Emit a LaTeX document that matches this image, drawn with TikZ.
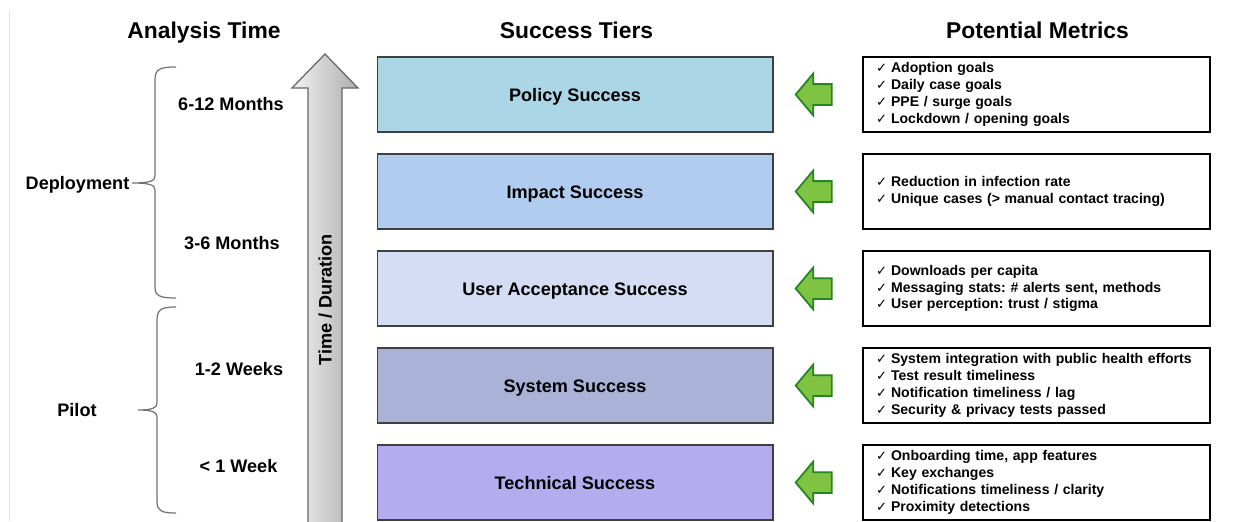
\documentclass[tikz,border=0pt]{standalone}
\usepackage{fontspec}
\setmainfont{Liberation Sans}
\newfontfamily\symfont{DejaVu Sans}
\usetikzlibrary{shapes.arrows}
\frenchspacing

\definecolor{polcol}{RGB}{171,214,229}
\definecolor{impcol}{RGB}{176,205,240}
\definecolor{usrcol}{RGB}{212,221,243}
\definecolor{syscol}{RGB}{170,178,216}
\definecolor{teccol}{RGB}{180,172,238}
\definecolor{arrfill}{RGB}{128,194,66}
\definecolor{arrline}{RGB}{34,134,34}
\newcommand{\ck}{\makebox[0.3cm][l]{\symfont\fontsize{7.5}{7.5}\selectfont ✓}}

\tikzset{
	,font = \bfseries
	,titlenode/.style = {font=\bfseries\fontsize{13}{15}\selectfont, text height=9.3pt, text depth=0pt}
	,timenode/.style  = {font=\bfseries\fontsize{10.3}{12}\selectfont, text height=7.4pt, text depth=0pt}
	,tierbox/.style   = {draw=black!75, line width=0.6pt, minimum width=7.92cm, minimum height=1.5cm, text height=7.4pt, text depth=0pt, font=\bfseries\fontsize{10.3}{12}\selectfont}
	,metricbox/.style = {draw=black, line width=1.1pt, minimum width=6.94cm, minimum height=1.5cm, text width=6.42cm, inner xsep=0.26cm, align=left, font=\bfseries\fontsize{8}{9.6}\selectfont}
	,greenarrow/.style = {single arrow, shape border rotate=180, draw=arrline, fill=arrfill, line width=1pt, minimum height=0.72cm, inner xsep=0, inner ysep=0.19cm, single arrow head extend=0.21cm, single arrow tip angle=100}
	,bracel/.style = {draw=black!55, line width=0.7pt}
}

\begin{document}
\begin{tikzpicture}[x=0.02cm, y=-0.02cm]
	\useasboundingbox (0,0) rectangle (1243,521);
	\draw[black!10] (9,10) -- (9,521);

	% column titles
	\node[titlenode] at (204,30)    (tanal) {Analysis Time};
	\node[titlenode] at (576.5,30)  (ttier) {Success Tiers};
	\node[titlenode] at (1037.5,30) (tmetr) {Potential Metrics};

	% time axis
	\shade[left color=black!5, right color=black!32, draw=black!60, line width=0.7pt]
		(308,540) -- (308,88) -- (292,88) -- (325,54) -- (358,88) -- (342,88) -- (342,540) -- cycle;
	\node[timenode, rotate=90] at (325,300) (axis) {Time / Duration};

	\node[timenode] at (231,104)   (m612) {6-12 Months};
	\node[timenode] at (232,243)   (m36)  {3-6 Months};
	\node[timenode] at (239,369)   (w12)  {1-2 Weeks};
	\node[timenode] at (238.5,466) (w1)   {< 1 Week};

	\node[timenode] at (77.5,183) (dep) {Deployment};
	\node[timenode] at (77,410)   (pil) {Pilot};

	\draw[bracel] (176,67) .. controls (160,67) and (155,69) .. (155,80) -- (155,176)
		.. controls (155,181) and (150,183) .. (132,183) .. controls (150,183) and (155,185) .. (155,190)
		-- (155,287) .. controls (155,296) and (160,298) .. (176,298);
	\draw[bracel] (176,307) .. controls (162,307) and (157,309) .. (157,320) -- (157,403)
		.. controls (157,408) and (152,410) .. (138,410) .. controls (152,410) and (157,412) .. (157,417)
		-- (157,502) .. controls (157,511) and (162,513) .. (176,513);

	% success tiers
	\node[tierbox, fill=polcol] at (575,94.5)  (pol) {Policy Success};
	\node[tierbox, fill=impcol] at (575,191.5) (imp) {Impact Success};
	\node[tierbox, fill=usrcol] at (575,288.5) (usr) {User Acceptance Success};
	\node[tierbox, fill=syscol] at (575,385.5) (sys) {System Success};
	\node[tierbox, fill=teccol] at (575,482.5) (tec) {Technical Success};

	% metrics
	\node[metricbox] at (1036.5,94.5) (mpol) {\ck Adoption goals\\ \ck Daily case goals\\ \ck PPE / surge goals\\ \ck Lockdown / opening goals};
	\node[metricbox] at (1036.5,191.5) (mimp) {\ck Reduction in infection rate\\ \ck Unique cases (> manual contact tracing)};
	\node[metricbox] at (1036.5,288.5) (musr) {\ck Downloads per capita\\ \ck Messaging stats: \# alerts sent, methods\\ \ck User perception: trust / stigma};
	\node[metricbox] at (1036.5,385.5) (msys) {\ck System integration with public health efforts\\ \ck Test result timeliness\\ \ck Notification timeliness / lag\\ \ck Security \& privacy tests passed};
	\node[metricbox] at (1036.5,482.5) (mtec) {\ck Onboarding time, app features\\ \ck Key exchanges\\ \ck Notifications timeliness / clarity\\ \ck Proximity detections};

	\foreach \yy/\nm in {94.5/apol, 191.5/aimp, 288.5/ausr, 385.5/asys, 482.5/atec}
		\node[greenarrow] at (818,\yy) (\nm) {};
\end{tikzpicture}
\end{document}
